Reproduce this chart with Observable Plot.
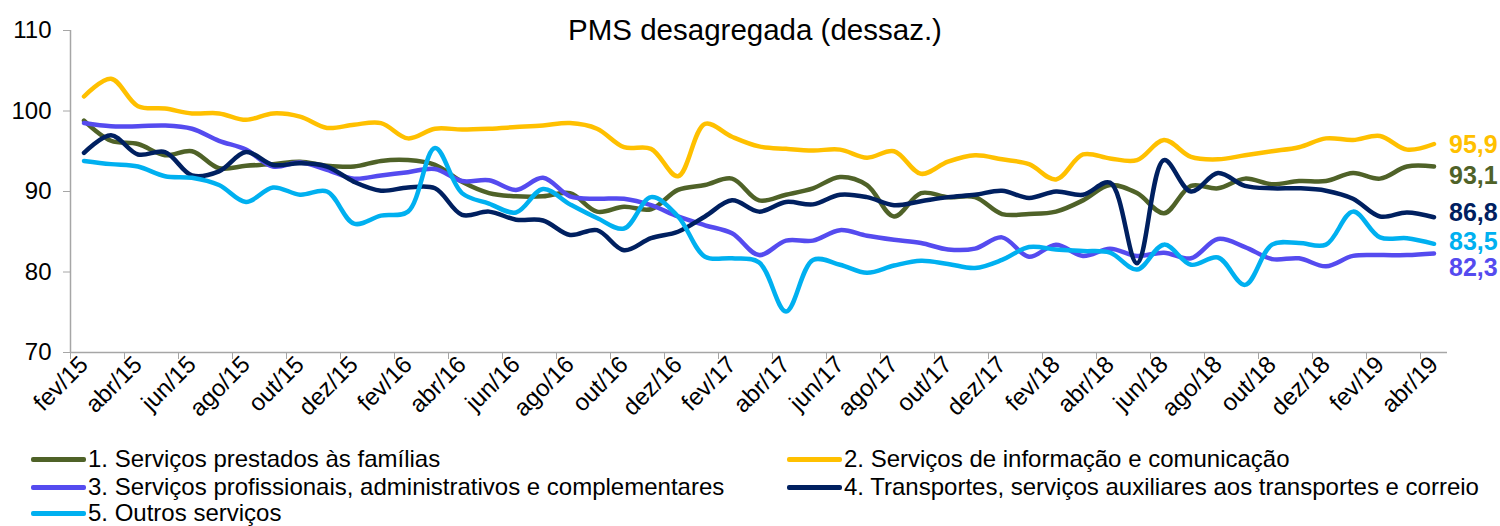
<!DOCTYPE html>
<html><head><meta charset="utf-8">
<script src="https://cdn.jsdelivr.net/npm/d3@7"></script>
<script src="https://cdn.jsdelivr.net/npm/@observablehq/plot@0.6"></script>
<style>
body{margin:0;background:#fff;font-family:"Liberation Sans",Arial,sans-serif;}
#wrap{position:relative;width:1500px;height:526px;overflow:hidden;}
#legend{position:absolute;left:0;top:445px;width:1500px;height:81px;}
.item{position:absolute;display:flex;align-items:center;font-size:24px;line-height:24px;color:#000;white-space:nowrap;}
.sw{display:inline-block;width:55px;height:5px;margin-right:2px;border-radius:2px;}
</style></head><body>
<div id="wrap"><div id="chart"></div><div id="legend"></div></div>
<script>
const months = ["fev/15","mar/15","abr/15","mai/15","jun/15","jul/15","ago/15","set/15","out/15","nov/15","dez/15",
"jan/16","fev/16","mar/16","abr/16","mai/16","jun/16","jul/16","ago/16","set/16","out/16","nov/16","dez/16",
"jan/17","fev/17","mar/17","abr/17","mai/17","jun/17","jul/17","ago/17","set/17","out/17","nov/17","dez/17",
"jan/18","fev/18","mar/18","abr/18","mai/18","jun/18","jul/18","ago/18","set/18","out/18","nov/18","dez/18",
"jan/19","fev/19","mar/19","abr/19"];

const familias = [98.8,96.3,95.9,94.5,95.0,92.9,93.2,93.4,93.7,93.2,93.1,93.8,93.9,93.3,91.2,89.8,89.4,89.4,89.8,87.5,88.1,87.8,90.2,90.8,91.6,88.9,89.6,90.4,91.8,90.8,86.9,89.8,89.3,89.3,87.2,87.2,87.5,88.9,90.8,89.8,87.3,90.7,90.4,91.6,90.9,91.3,91.3,92.3,91.6,93.1,93.1];
const informacao = [101.8,104.0,100.6,100.3,99.7,99.7,98.9,99.7,99.3,97.9,98.3,98.5,96.6,97.8,97.7,97.8,98.0,98.2,98.5,97.8,95.5,95.3,91.9,98.4,96.8,95.6,95.3,95.1,95.2,94.2,95.0,92.2,93.7,94.5,94.0,93.4,91.5,94.6,94.1,93.9,96.4,94.3,94.0,94.5,95.0,95.5,96.6,96.4,96.9,95.2,95.9];
const profissionais = [98.5,98.1,98.1,98.2,97.8,96.3,95.2,93.1,93.6,92.7,91.6,92.0,92.4,92.8,91.3,91.4,90.2,91.7,89.4,89.1,89.1,88.3,86.9,85.8,84.8,82.1,83.9,83.9,85.2,84.5,84.0,83.6,82.8,82.9,84.3,81.9,83.4,82.0,82.9,82.0,82.4,81.7,84.1,83.1,81.6,81.7,80.7,82.0,82.1,82.1,82.3];
const transportes = [94.8,97.0,94.6,94.9,92.0,92.5,94.9,93.3,93.5,93.1,91.2,90.1,90.5,90.4,87.1,87.5,86.5,86.4,84.6,85.2,82.7,84.2,85.0,86.9,88.9,87.5,88.7,88.4,89.6,89.3,88.3,88.8,89.3,89.6,90.1,89.2,90.0,89.6,91.1,81.1,93.9,90.0,92.3,90.7,90.4,90.4,90.1,89.1,86.9,87.4,86.8];
const outros = [93.8,93.4,93.1,91.9,91.7,90.8,88.7,90.5,89.6,90.0,86.0,87.0,87.5,95.4,89.8,88.5,87.4,90.3,88.4,86.7,85.4,89.3,86.9,81.9,81.7,81.2,75.1,81.5,80.9,79.9,80.8,81.4,81.0,80.5,81.5,83.1,82.8,82.6,82.4,80.3,83.4,80.9,81.8,78.4,83.4,83.6,83.4,87.5,84.3,84.2,83.5];

const seriesNames = ["1. Serviços prestados às famílias","2. Serviços de informação e comunicação","3. Serviços profissionais, administrativos e complementares","4. Transportes, serviços auxiliares aos transportes e correio","5. Outros serviços"];
const yTicks = [70,80,90,100,110];
const title = "PMS desagregada (dessaz.)";

const seriesValues = [familias, informacao, profissionais, transportes, outros];
const colors = ["#4f6228","#ffc000","#554bef","#002060","#00b0f0"];
const endDy = [9, 1, 15, -4, -2];

const halfTicks = d3.range(-0.5, months.length - 1, 2);
const labelTicks = d3.range(0, months.length, 2);
const fmt = v => v.toFixed(1).replace(".", ",");

const lineMarks = seriesValues.map((vals, s) =>
  Plot.lineY(vals, {x: (d, i) => i, y: d => d, stroke: colors[s], strokeWidth: 4.5, curve: "catmull-rom"}));
const endMarks = seriesValues.map((vals, s) =>
  Plot.text([{i: vals.length - 1, v: vals[vals.length - 1]}], {x: "i", y: "v", text: d => fmt(d.v), dx: 15, dy: endDy[s], textAnchor: "start", fill: colors[s], fontWeight: "bold", fontSize: 25}));

const chart = Plot.plot({
  width: 1500, height: 445,
  marginTop: 30, marginLeft: 70, marginRight: 53, marginBottom: 93,
  style: {fontFamily: "'Liberation Sans', Arial, sans-serif", background: "#fff", color: "#000", overflow: "visible"},
  x: {type: "linear", domain: [-0.5, months.length - 0.5]},
  y: {domain: [70, 110]},
  marks: [
    Plot.axisY({ticks: yTicks, tickSize: 7, tickPadding: 12, fontSize: 24, stroke: "#a6a6a6", fill: "#000", label: null}),
    Plot.axisX({ticks: halfTicks, tickSize: 7, tickFormat: () => "", stroke: "#a6a6a6", label: null}),
    Plot.axisX({ticks: labelTicks, tickSize: 0, tickPadding: 8, tickRotate: -45, tickFormat: i => months[i], fontSize: 24, fill: "#000", label: null}),
    Plot.ruleX([-0.5], {stroke: "#a6a6a6", strokeWidth: 1.5}),
    Plot.ruleY([70], {stroke: "#a6a6a6", strokeWidth: 1.5}),
    ...lineMarks,
    ...endMarks,
    Plot.text([title], {frameAnchor: "top", lineAnchor: "middle", dx: -4, fontSize: 29.5, fill: "#000"})
  ]
});
document.getElementById("chart").appendChild(chart);

const legend = document.getElementById("legend");
const pos = [[31, 2], [787, 2], [31, 30], [787, 30], [31, 56]];
seriesNames.forEach((name, s) => {
  const it = document.createElement("div");
  it.className = "item";
  it.style.left = pos[s][0] + "px";
  it.style.top = pos[s][1] + "px";
  const sw = document.createElement("span");
  sw.className = "sw";
  sw.style.background = colors[s];
  const tx = document.createElement("span");
  tx.textContent = name;
  it.appendChild(sw); it.appendChild(tx);
  legend.appendChild(it);
});
</script>
</body></html>
